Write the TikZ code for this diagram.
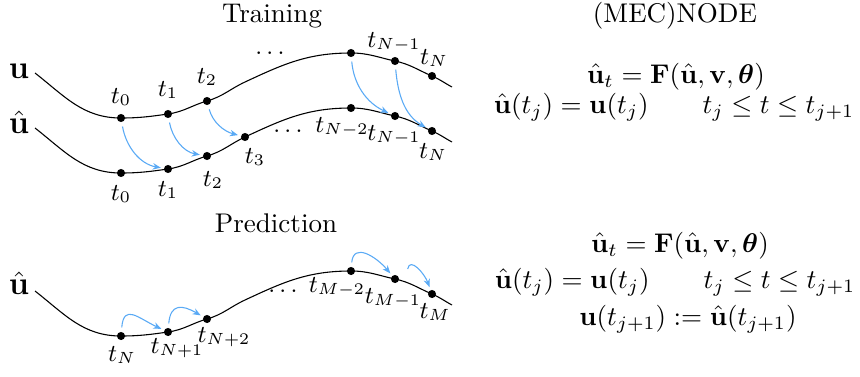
\documentclass[tikz,border=0pt]{standalone}
\usepackage{amsmath,amssymb}
\usetikzlibrary{arrows.meta}
\definecolor{arrblue}{RGB}{90,170,245}
\begin{document}
\begin{tikzpicture}[x=0.37pt,y=-0.37pt,
  dot/.style={circle,fill=black,inner sep=0pt,minimum size=3pt},
  curve/.style={line width=0.4pt,black},
  flow/.style={arrblue,line width=0.4pt,-{Stealth[length=3pt,width=2.4pt]},shorten <=1.5pt,shorten >=1pt},
  lbl/.style={inner sep=0pt,font=\fontsize{9.2}{11}\selectfont},
  ttl/.style={inner sep=0pt,anchor=base},
  eqn/.style={inner sep=0pt,anchor=base},
  var/.style={inner sep=0pt,font=\large}]
\useasboundingbox (0,0) rectangle (860,376);

% ---------- Training: upper curve u ----------
\node[dot] (a0) at (121,118) {};
\node[dot] (a1) at (168,114) {};
\node[dot] (a2) at (207,101) {};
\node[dot] (a3) at (351,53) {};
\node[dot] (a4) at (395,61) {};
\node[dot] (a5) at (432,76) {};
\coordinate (as) at (35,73);
\coordinate (am) at (245,82);
\coordinate (ae) at (452,87);
\draw[curve] (as) to[out=-38,in=180] (a0.center) to[out=0,in=188] (a1.center)
  to[out=8,in=196] (a2.center) to[out=16,in=205] (am) to[out=25,in=180] (a3.center)
  to[out=0,in=168] (a4.center) to[out=-12,in=157] (a5.center) to[out=-23,in=152] (ae);

% ---------- Training: lower curve u hat ----------
\begin{scope}[shift={(0,55)}]
\node[dot] (b0) at (121,118) {};
\node[dot] (b1) at (168,114) {};
\node[dot] (b2) at (207,101) {};
\node[dot] (b3) at (245,82) {};
\node[dot] (b4) at (351,53) {};
\node[dot] (b5) at (395,61) {};
\node[dot] (b6) at (432,76) {};
\coordinate (bs) at (35,73);
\coordinate (be) at (452,87);
\end{scope}
\draw[curve] (bs) to[out=-38,in=180] (b0.center) to[out=0,in=188] (b1.center)
  to[out=8,in=196] (b2.center) to[out=16,in=205] (b3.center) to[out=25,in=180] (b4.center)
  to[out=0,in=168] (b5.center) to[out=-12,in=157] (b6.center) to[out=-23,in=152] (be);

% ---------- Prediction curve ----------
\begin{scope}[shift={(0,218)}]
\node[dot] (p0) at (121,118) {};
\node[dot] (p1) at (168,114) {};
\node[dot] (p2) at (207,101) {};
\coordinate (pm) at (245,82);
\node[dot] (p3) at (351,53) {};
\node[dot] (p4) at (395,61) {};
\node[dot] (p5) at (432,76) {};
\coordinate (ps) at (35,73);
\coordinate (pe) at (452,87);
\end{scope}
\draw[curve] (ps) to[out=-38,in=180] (p0.center) to[out=0,in=188] (p1.center)
  to[out=8,in=196] (p2.center) to[out=16,in=205] (pm) to[out=25,in=180] (p3.center)
  to[out=0,in=168] (p4.center) to[out=-12,in=157] (p5.center) to[out=-23,in=152] (pe);

% ---------- variable labels ----------
\node[var] (lu) at (19,71) {$\mathbf{u}$};
\node[var] (luh) at (19,122) {$\hat{\mathbf{u}}$};
\node[var] (lpu) at (19,283) {$\hat{\mathbf{u}}$};

% ---------- titles ----------
\node[ttl] (ttrain) at (272,22) {Training};
\node[ttl] (tmec) at (675,22) {(MEC)NODE};
\node[ttl] (tpred) at (276,232) {Prediction};

% ---------- time labels (upper) ----------
\node[lbl] (la0) at (121,97) {$t_0$};
\node[lbl] (la1) at (168,90) {$t_1$};
\node[lbl] (la2) at (207,77) {$t_2$};
\node[lbl] (lad) at (272,53) {$\dots$};
\node[lbl] (la4) at (394,42) {$t_{N-1}$};
\node[lbl] (la5) at (434,58) {$t_N$};
% lower
\node[lbl] (lb0) at (121,194) {$t_0$};
\node[lbl] (lb1) at (168,190) {$t_1$};
\node[lbl] (lb2) at (213,180) {$t_2$};
\node[lbl] (lb3) at (255,157) {$t_3$};
\node[lbl] (lbd) at (290,131) {$\dots$};
\node[lbl] (lb4) at (342,127) {$t_{N-2}$};
\node[lbl] (lb5) at (394,135) {$t_{N-1}$};
\node[lbl] (lb6) at (433,152) {$t_N$};
% prediction
\node[lbl] (lp0) at (122,355) {$t_N$};
\node[lbl] (lp1) at (177,348) {$t_{N+1}$};
\node[lbl] (lp2) at (224,337) {$t_{N+2}$};
\node[lbl] (lpd) at (285,291) {$\dots$};
\node[lbl] (lp3) at (337,287) {$t_{M-2}$};
\node[lbl] (lp4) at (393,298) {$t_{M-1}$};
\node[lbl] (lp5) at (435,312) {$t_M$};

% ---------- blue arrows (training) ----------
\draw[flow] (a0) to[out=-80,in=170] (b1);
\draw[flow] (a1) to[out=-80,in=170] (b2);
\draw[flow] (a2) to[out=-75,in=165] (b3);
\draw[flow] (a3) to[out=-85,in=155] (b5);
\draw[flow] (a4) to[out=-85,in=150] (b6);

% ---------- blue arrows (prediction) ----------
\draw[flow] (p0) to[out=85,in=155,looseness=1.7] (p1);
\draw[flow] (p1) to[out=85,in=150,looseness=1.7] (p2);
\draw[flow] (p3) to[out=85,in=130,looseness=1.5] (p4);
\coordinate (p4r) at ([shift={(12,-6)}]p4.center);
\draw[flow] (p4r) to[out=80,in=110,looseness=1.5] (p5);

% ---------- equations ----------
\node[eqn] (e1) at (676,83) {$\hat{\mathbf{u}}_t = \mathbf{F}(\hat{\mathbf{u}}, \mathbf{v}, \boldsymbol{\theta})$};
\node[eqn] (e2) at (674,113) {$\hat{\mathbf{u}}(t_j) = \mathbf{u}(t_j) \qquad t_j \le t \le t_{j+1}$};
\node[eqn] (f1) at (680,252) {$\hat{\mathbf{u}}_t = \mathbf{F}(\hat{\mathbf{u}}, \mathbf{v}, \boldsymbol{\theta})$};
\node[eqn] (f2) at (675,288) {$\hat{\mathbf{u}}(t_j) = \mathbf{u}(t_j) \qquad t_j \le t \le t_{j+1}$};
\node[eqn] (f3) at (688,325) {$\mathbf{u}(t_{j+1}) := \hat{\mathbf{u}}(t_{j+1})$};
\end{tikzpicture}
\end{document}
